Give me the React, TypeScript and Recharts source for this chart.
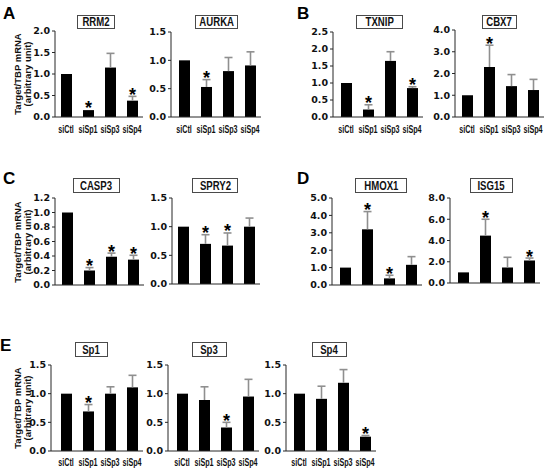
import React from 'react';
import { ComposedChart, Bar, XAxis, YAxis, LabelList } from 'recharts';

const categories = ['siCtl', 'siSp1', 'siSp3', 'siSp4'];

const rrm2Values = [1.0, 0.16, 1.15, 0.38];
const rrm2Upper = [1.0, 0.17, 1.48, 0.48];
const rrm2Stars = [false, true, false, true];

const aurkaValues = [1.0, 0.53, 0.81, 0.91];
const aurkaUpper = [1.0, 0.66, 1.05, 1.15];
const aurkaStars = [false, true, false, false];

const txnipValues = [1.0, 0.22, 1.65, 0.85];
const txnipUpper = [1.0, 0.36, 1.92, 0.89];
const txnipStars = [false, true, false, true];

const cbx7Values = [1.0, 2.3, 1.42, 1.24];
const cbx7Upper = [1.0, 3.3, 1.95, 1.73];
const cbx7Stars = [false, true, false, false];

const casp3Values = [1.0, 0.2, 0.39, 0.35];
const casp3Upper = [1.0, 0.24, 0.44, 0.41];
const casp3Stars = [false, true, true, true];

const spry2Values = [1.0, 0.7, 0.67, 1.0];
const spry2Upper = [1.0, 0.86, 0.89, 1.15];
const spry2Stars = [false, true, true, false];

const hmox1Values = [1.0, 3.2, 0.38, 1.16];
const hmox1Upper = [1.0, 4.22, 0.56, 1.63];
const hmox1Stars = [false, true, true, false];

const isg15Values = [1.0, 4.46, 1.46, 2.12];
const isg15Upper = [1.0, 6.0, 2.42, 2.35];
const isg15Stars = [false, true, false, true];

const sp1Values = [1.0, 0.69, 1.0, 1.11];
const sp1Upper = [1.0, 0.81, 1.12, 1.32];
const sp1Stars = [false, true, false, false];

const sp3Values = [1.0, 0.89, 0.41, 0.95];
const sp3Upper = [1.0, 1.12, 0.5, 1.25];
const sp3Stars = [false, false, true, false];

const sp4Values = [1.0, 0.91, 1.19, 0.25];
const sp4Upper = [1.0, 1.13, 1.42, 0.27];
const sp4Stars = [false, false, false, true];

const ticks15 = [0, 0.5, 1.0, 1.5];
const ticks20 = [0, 0.5, 1.0, 1.5, 2.0];
const ticks25 = [0, 0.5, 1.0, 1.5, 2.0, 2.5];
const ticks40 = [0, 1, 2, 3, 4];
const ticks12 = [0, 0.2, 0.4, 0.6, 0.8, 1.0, 1.2];
const ticks50 = [0, 1, 2, 3, 4, 5];
const ticks80 = [0, 2, 4, 6, 8];

const yLabelLine1 = 'Target/TBP mRNA';
const yLabelLine2 = '(arbitrary unit)';

type Panel = {
  title: string;
  values: number[];
  upper: number[];
  stars: boolean[];
  ticks: number[];
  axisX: number;
  top: number;
  bottom: number;
  padL: number;
  showX: boolean;
  tickMargin: number;
  box: [number, number, number, number];
};

const panels: Panel[] = [
  { title: 'RRM2', values: rrm2Values, upper: rrm2Upper, stars: rrm2Stars, ticks: ticks20, axisX: 55, top: 31, bottom: 117, padL: 0, showX: true, tickMargin: 9, box: [77, 15, 38, 14] },
  { title: 'AURKA', values: aurkaValues, upper: aurkaUpper, stars: aurkaStars, ticks: ticks15, axisX: 171, top: 32, bottom: 117, padL: 2, showX: true, tickMargin: 9, box: [195, 15, 43, 14] },
  { title: 'TXNIP', values: txnipValues, upper: txnipUpper, stars: txnipStars, ticks: ticks25, axisX: 333, top: 32, bottom: 117, padL: 2, showX: true, tickMargin: 9, box: [356, 15, 47, 14] },
  { title: 'CBX7', values: cbx7Values, upper: cbx7Upper, stars: cbx7Stars, ticks: ticks40, axisX: 455, top: 30, bottom: 117, padL: 1, showX: true, tickMargin: 9, box: [482, 15, 35, 14] },
  { title: 'CASP3', values: casp3Values, upper: casp3Upper, stars: casp3Stars, ticks: ticks12, axisX: 55, top: 198, bottom: 285, padL: 1, showX: false, tickMargin: 10, box: [73, 178, 47, 15] },
  { title: 'SPRY2', values: spry2Values, upper: spry2Upper, stars: spry2Stars, ticks: ticks15, axisX: 172, top: 198, bottom: 284, padL: 0, showX: false, tickMargin: 10, box: [192, 178, 46, 15] },
  { title: 'HMOX1', values: hmox1Values, upper: hmox1Upper, stars: hmox1Stars, ticks: ticks50, axisX: 332, top: 198, bottom: 285, padL: 2, showX: false, tickMargin: 10, box: [355, 178, 52, 15] },
  { title: 'ISG15', values: isg15Values, upper: isg15Upper, stars: isg15Stars, ticks: ticks80, axisX: 450, top: 198, bottom: 283, padL: 2, showX: false, tickMargin: 10, box: [470, 178, 43, 15] },
  { title: 'Sp1', values: sp1Values, upper: sp1Upper, stars: sp1Stars, ticks: ticks15, axisX: 51, top: 365, bottom: 451, padL: 4, showX: true, tickMargin: 8, box: [75, 342, 33, 15] },
  { title: 'Sp3', values: sp3Values, upper: sp3Upper, stars: sp3Stars, ticks: ticks15, axisX: 168, top: 365, bottom: 451, padL: 3, showX: true, tickMargin: 8, box: [192, 342, 35, 15] },
  { title: 'Sp4', values: sp4Values, upper: sp4Upper, stars: sp4Stars, ticks: ticks15, axisX: 286, top: 365, bottom: 451, padL: 2, showX: true, tickMargin: 8, box: [312, 342, 35, 15] },
];

const ERR_COLOR = '#8f8f8f';
const AXIS_COLOR = '#262626';
const SANS = "'Liberation Sans', Arial, sans-serif";

const ErrShape = (props: any) => {
  const { x, y, width, height } = props;
  if (!height || height <= 0.5) return <g />;
  const cx = x + width / 2;
  return (
    <g>
      <line x1={cx} x2={cx} y1={y + height} y2={y} stroke={ERR_COLOR} strokeWidth={1.6} />
      <line x1={cx - 4} x2={cx + 4} y1={y} y2={y} stroke={ERR_COLOR} strokeWidth={1.6} />
    </g>
  );
};

const renderStar = (props: any) => {
  const vb = props.viewBox || {};
  const x = props.x ?? vb.x;
  const y = props.y ?? vb.y;
  const width = props.width ?? vb.width;
  if (!props.value) return null;
  return (
    <text x={x + width / 2} y={y + 4.5} textAnchor="middle" fontFamily={SANS} fontWeight="bold" fontSize={18} fill="#000">
      *
    </text>
  );
};

const XTick = (props: any) => {
  const { x, y, payload } = props;
  return (
    <g transform={`translate(${x},${y})`}>
      <text transform="scale(0.72,1)" textAnchor="middle" dy="0.71em" fontFamily={SANS} fontWeight="bold" fontSize={10} fill="#111">
        {payload.value}
      </text>
    </g>
  );
};

const YW = 40;
const MT = 8;
const MR = 4;
const XH = 22;
const BAND = 22;

const PanelChart = ({ p }: { p: Panel }) => {
  const data = categories.map((c, i) => ({
    name: c,
    value: p.values[i],
    err: Math.max(0, p.upper[i] - p.values[i]),
    star: p.stars[i] ? '*' : '',
  }));
  const width = YW + p.padL + BAND * 4 + MR;
  const height = MT + (p.bottom - p.top) + XH;
  const max = p.ticks[p.ticks.length - 1];
  return (
    <div style={{ position: 'absolute', left: p.axisX - YW, top: p.top - MT, width, height }}>
      <ComposedChart width={width} height={height} data={data} margin={{ top: MT, right: MR, left: 0, bottom: 0 }} barSize={11}>
        <XAxis
          dataKey="name"
          type="category"
          height={XH}
          padding={{ left: p.padL, right: 0 }}
          axisLine={{ stroke: AXIS_COLOR, strokeWidth: 1 }}
          tickLine={false}
          tickSize={0}
          tickMargin={p.tickMargin}
          interval={0}
          tick={p.showX ? <XTick /> : false}
        />
        <YAxis
          width={YW}
          domain={[0, max]}
          ticks={p.ticks}
          interval={0}
          tickFormatter={(v: number) => v.toFixed(1)}
          axisLine={{ stroke: AXIS_COLOR, strokeWidth: 1 }}
          tickLine={{ stroke: AXIS_COLOR }}
          tickSize={3}
          tickMargin={2}
          tick={{ fontSize: 9.5, fontWeight: 'bold', fill: '#111', fontFamily: "'DejaVu Sans', sans-serif" }}
        />
        <Bar dataKey="value" stackId="s" fill="#000" isAnimationActive={false} />
        <Bar dataKey="err" stackId="s" fill="none" shape={ErrShape} isAnimationActive={false}>
          <LabelList dataKey="star" content={renderStar} />
        </Bar>
      </ComposedChart>
    </div>
  );
};

const letters: [string, number, number][] = [
  ['A', 3, 19],
  ['B', 297, 19],
  ['C', 3, 184],
  ['D', 297, 184],
  ['E', 0, 351],
];

const yLabelCenters = [74, 242, 408];

export default function App() {
  return (
    <div style={{ position: 'absolute', left: 0, top: 0, width: 550, height: 472, background: '#fff', overflow: 'hidden' }}>
      {panels.map((p) => (
        <PanelChart key={p.title} p={p} />
      ))}
      {panels.map((p) => (
        <div
          key={'t' + p.title}
          style={{
            position: 'absolute',
            left: p.box[0],
            top: p.box[1],
            width: p.box[2],
            height: p.box[3],
            boxSizing: 'border-box',
            border: '1px solid #4a4a4a',
            background: '#fff',
            display: 'flex',
            alignItems: 'center',
            justifyContent: 'center',
            overflow: 'hidden',
          }}
        >
          <span
            style={{
              display: 'inline-block',
              transform: 'scaleX(0.8)',
              fontFamily: SANS,
              fontWeight: 'bold',
              fontSize: 12,
              lineHeight: '12px',
              color: '#111',
              whiteSpace: 'nowrap',
            }}
          >
            {p.title}
          </span>
        </div>
      ))}
      <svg width={550} height={472} style={{ position: 'absolute', left: 0, top: 0, pointerEvents: 'none' }}>
        {letters.map(([t, x, y]) => (
          <text key={t} x={x} y={y} fontFamily={SANS} fontWeight="bold" fontSize={17} fill="#000">
            {t}
          </text>
        ))}
        {yLabelCenters.map((cy) => (
          <g key={cy} fontFamily={SANS} fontWeight="bold" fontSize={9.5} fill="#111">
            <text transform={`translate(21,${cy}) rotate(-90)`} textAnchor="middle">
              {yLabelLine1}
            </text>
            <text transform={`translate(30.5,${cy}) rotate(-90)`} textAnchor="middle">
              {yLabelLine2}
            </text>
          </g>
        ))}
      </svg>
    </div>
  );
}
